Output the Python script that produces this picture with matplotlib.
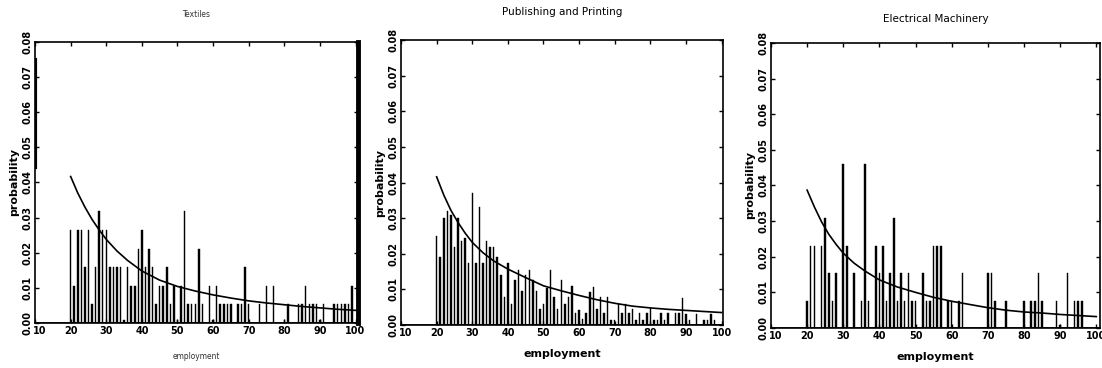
import numpy as np
import matplotlib.pyplot as plt
import matplotlib.transforms as mtransforms

# --- Textiles ---
tex_emp = [20, 21, 22, 23, 24, 25, 26, 27, 28, 29, 30, 31, 32, 33, 34, 35, 36, 37, 38, 39,
           40, 41, 42, 43, 44, 45, 46, 47, 48, 49, 50, 51, 52, 53, 54, 55, 56, 57, 59, 60,
           61, 62, 63, 64, 65, 67, 68, 69, 70, 73, 75, 77, 80, 81, 84, 85, 86, 87, 88, 89,
           90, 91, 94, 95, 96, 97, 98, 99]
tex_prob = [0.0265, 0.0106, 0.0265, 0.0265, 0.016, 0.0265, 0.0053, 0.016, 0.032, 0.0265,
            0.0265, 0.016, 0.016, 0.016, 0.016, 0.0008, 0.016, 0.0106, 0.0106, 0.021,
            0.0265, 0.016, 0.021, 0.016, 0.0053, 0.0106, 0.0106, 0.016, 0.0053, 0.0106,
            0.0008, 0.0106, 0.032, 0.0053, 0.0053, 0.0053, 0.021, 0.0053, 0.0106, 0.0008,
            0.0106, 0.0053, 0.0053, 0.0053, 0.0053, 0.0053, 0.0053, 0.016, 0.0053, 0.0053,
            0.0106, 0.0106, 0.0008, 0.0053, 0.0053, 0.0053, 0.0106, 0.0053, 0.0053, 0.0053,
            0.0008, 0.0053, 0.0053, 0.0053, 0.0053, 0.0053, 0.0053, 0.0106]

# --- Publishing and Printing ---
pub_emp = list(range(20, 99))
pub_prob = [0.025, 0.019, 0.030, 0.032, 0.031, 0.022, 0.030, 0.0235, 0.0245, 0.0175,
            0.037, 0.0175, 0.033, 0.0175, 0.0235, 0.022, 0.022, 0.019, 0.014, 0.008,
            0.0175, 0.006, 0.0125, 0.0155, 0.0095, 0.014, 0.0155, 0.0125, 0.0095, 0.0045,
            0.006, 0.0105, 0.0155, 0.008, 0.0045, 0.0125, 0.006, 0.008, 0.011, 0.0033,
            0.0042, 0.0016, 0.0033, 0.0093, 0.0107, 0.0044, 0.008, 0.0033, 0.0078, 0.0014,
            0.0014, 0.006, 0.0033, 0.006, 0.0033, 0.0044, 0.0014, 0.0033, 0.0014, 0.0033,
            0.0047, 0.0014, 0.0014, 0.0033, 0.0014, 0.0033, 0.0, 0.0033, 0.0033, 0.0077,
            0.003, 0.0014, 0.0, 0.003, 0.0, 0.0014, 0.0014, 0.003, 0.0014]

# --- Electrical Machinery ---
ele_emp = [20, 21, 22, 24, 25, 26, 27, 28, 30, 31, 33, 35, 36, 37, 39, 40, 41, 42, 43, 44,
           45, 46, 47, 48, 49, 50, 52, 53, 54, 55, 56, 57, 59, 60, 62, 63, 70, 71, 72, 75,
           80, 82, 83, 84, 85, 89, 90, 92, 94, 95, 96]
ele_prob = [0.0077, 0.023, 0.023, 0.023, 0.031, 0.0154, 0.0077, 0.0154, 0.046, 0.023,
            0.0154, 0.0077, 0.046, 0.0077, 0.023, 0.0154, 0.023, 0.0077, 0.0154, 0.031,
            0.0077, 0.0154, 0.0077, 0.0154, 0.0077, 0.0077, 0.0154, 0.0077, 0.0077, 0.023,
            0.023, 0.023, 0.0077, 0.0077, 0.0077, 0.0154, 0.0154, 0.0154, 0.0077, 0.0077,
            0.0077, 0.0077, 0.0077, 0.0154, 0.0077, 0.0077, 0.0008, 0.0154, 0.0077, 0.0077,
            0.0077]

# fitted curves
fit_emp = [20, 22, 24, 26, 28, 30, 33, 36, 40, 45, 50, 55, 60, 65, 70, 75, 80, 85, 90, 95, 100]
tex_fit = [0.0417, 0.0370, 0.0330, 0.0295, 0.0265, 0.0238, 0.0205, 0.0178, 0.0148, 0.0122,
           0.0104, 0.0091, 0.0080, 0.0071, 0.0063, 0.0057, 0.0052, 0.0047, 0.0043, 0.0039,
           0.0036]
pub_fit = [0.0416, 0.0365, 0.0322, 0.0288, 0.0258, 0.0232, 0.0203, 0.0180, 0.0157, 0.0133,
           0.0110, 0.0096, 0.0083, 0.0071, 0.0061, 0.0053, 0.0048, 0.0044, 0.0041, 0.0038,
           0.0035]
ele_fit = [0.0387, 0.0340, 0.0298, 0.0263, 0.0235, 0.0210, 0.0182, 0.0160, 0.0135, 0.0115,
           0.0100, 0.0086, 0.0075, 0.0066, 0.0057, 0.0050, 0.0045, 0.0042, 0.0038, 0.0035,
           0.0032]

xticks = [10, 20, 30, 40, 50, 60, 70, 80, 90, 100]
yticks = [0.0, 0.01, 0.02, 0.03, 0.04, 0.05, 0.06, 0.07, 0.08]

fig = plt.figure(figsize=(11.02, 3.68), dpi=100)

panels = [
    ("Textiles", tex_emp, tex_prob, tex_fit, [0.0318, 0.1223, 0.2931, 0.7636], 100.7),
    ("Publishing and Printing", pub_emp, pub_prob, pub_fit, [0.3639, 0.1168, 0.2922, 0.7745], 100.4),
    ("Electrical Machinery", ele_emp, ele_prob, ele_fit, [0.6996, 0.1087, 0.2985, 0.7745], 101),
]

for i, (title, emp, prob, fit, rect, xmax) in enumerate(panels):
    ax = fig.add_axes(rect)
    ax.bar(emp, prob, width=0.42, color='black', edgecolor='black', linewidth=0.3)
    ax.plot(fit_emp, fit, color='black', lw=1.2)
    ax.axhline(0, color='black', lw=1.2)
    ax.set_xlim(10, xmax)
    ax.set_ylim(0, 0.08)
    ax.set_xticks(xticks)
    ax.set_yticks(yticks)
    ax.set_yticklabels(['%.2f' % v for v in yticks], rotation=90, va='center')
    ax.tick_params(direction='in', length=3, width=1, top=True, right=True,
                   labelsize=7, pad=2)
    for lab in ax.get_xticklabels() + ax.get_yticklabels():
        lab.set_fontweight('bold')
    # nudge the "10" label right, clear of "0.00"
    first = ax.get_xticklabels()[0]
    first.set_transform(first.get_transform() +
                        mtransforms.ScaledTranslation(5 / 100, 0, fig.dpi_scale_trans))
    for s in ax.spines.values():
        s.set_linewidth(1.2)
    if i == 0:
        ax.set_title(title, fontsize=6, fontstretch='condensed', color='#333333', pad=18)
        ax.set_xlabel('employment', fontsize=6, fontstretch='condensed', color='#333333',
                      labelpad=12)
        ax.spines['right'].set_linewidth(3.5)
        ax.axvline(10, ymin=0.0445 / 0.08, ymax=0.0748 / 0.08, color='black', lw=3)
    else:
        ax.set_title(title, fontsize=7.5, pad=18 if i == 1 else 15)
        ax.set_xlabel('employment', fontsize=8, fontweight='bold', labelpad=8)
    ax.set_ylabel('probability', fontsize=8, fontweight='bold', labelpad=2)

fig.savefig('out.png', dpi=100)
